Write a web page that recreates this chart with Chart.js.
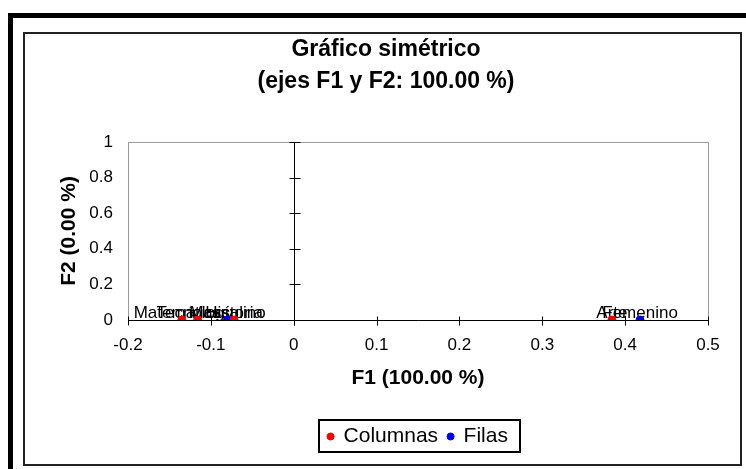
<!DOCTYPE html>
<html>
<head>
<meta charset="utf-8">
<script src="https://cdn.jsdelivr.net/npm/chart.js@4"></script>
<style>
  html, body { margin: 0; padding: 0; background: #fff; }
  canvas { display: block; }
</style>
</head>
<body>
<canvas id="chart" width="746" height="469"></canvas>
<script>
// -------------------------------
// Data
// -------------------------------
const columnLabels = ["Matemáticas", "Tecnología", "Historia", "Arte"];
const columnF1 = [-0.135, -0.116, -0.072, 0.384];
const columnF2 = [0, 0, 0, 0];

const rowLabels = ["Masculino", "Femenino"];
const rowF1 = [-0.080, 0.418];
const rowF2 = [0, 0];

const xTickLabels = ["-0.2", "-0.1", "0", "0.1", "0.2", "0.3", "0.4", "0.5"];
const yTickLabels = ["0", "0.2", "0.4", "0.6", "0.8", "1"];

const FONT = "'Liberation Sans', Arial, sans-serif";
Chart.defaults.font.family = FONT;
Chart.defaults.color = "#000";

// -------------------------------
// Frame, plot box and axes through 0
// -------------------------------
const framePlugin = {
  id: "frame",
  beforeDraw(chart) {
    const ctx = chart.ctx;
    ctx.save();
    ctx.fillStyle = "#fff";
    ctx.fillRect(0, 0, chart.width, chart.height);
    // thick outer border (left + top)
    ctx.fillStyle = "#000";
    ctx.fillRect(8, 13, 5, chart.height - 13);
    ctx.fillRect(8, 13, chart.width - 8, 5);
    // inner thin border
    ctx.strokeStyle = "#222";
    ctx.lineWidth = 2;
    ctx.strokeRect(24, 33, 717, 432);
    ctx.restore();
  },
  beforeDatasetsDraw(chart) {
    const ctx = chart.ctx;
    const a = chart.chartArea;
    const x = chart.scales.x;
    const y = chart.scales.y;
    ctx.save();
    ctx.strokeStyle = "#9a9a9a";
    ctx.lineWidth = 1;
    ctx.strokeRect(a.left + 0.5, a.top + 0.5, a.right - a.left, a.bottom - a.top);

    ctx.strokeStyle = "#000";
    const x0 = Math.round(x.getPixelForValue(0)) + 0.5;
    const y0 = Math.round(y.getPixelForValue(0)) + 0.5;
    ctx.beginPath();
    ctx.moveTo(x0, a.top);
    ctx.lineTo(x0, y0 + 5);
    ctx.moveTo(a.left, y0);
    ctx.lineTo(a.right + 1, y0);
    x.ticks.forEach((t) => {
      const px = Math.round(x.getPixelForValue(t.value)) + 0.5;
      ctx.moveTo(px, y0 - 4);
      ctx.lineTo(px, y0 + 5);
    });
    y.ticks.forEach((t) => {
      const py = Math.round(y.getPixelForValue(t.value)) + 0.5;
      ctx.moveTo(x0 - 5, py);
      ctx.lineTo(x0 + 6, py);
    });
    ctx.stroke();

    // point labels (drawn under the markers)
    ctx.font = "17px " + FONT;
    ctx.fillStyle = "#000";
    ctx.textAlign = "center";
    ctx.textBaseline = "alphabetic";
    const names = [columnLabels, rowLabels];
    chart.data.datasets.forEach((ds, i) => {
      chart.getDatasetMeta(i).data.forEach((pt, j) => {
        ctx.fillText(names[i][j], pt.x, pt.y - 2);
      });
    });
    ctx.restore();
  },
  afterDraw(chart) {
    // box around the legend
    const boxes = chart.legend && chart.legend.legendHitBoxes;
    if (!boxes || !boxes.length) return;
    let l = Infinity, r = -Infinity, t = Infinity, b = -Infinity;
    boxes.forEach((h) => {
      l = Math.min(l, h.left);
      r = Math.max(r, h.left + h.width);
      t = Math.min(t, h.top);
      b = Math.max(b, h.top + h.height);
    });
    const ctx = chart.ctx;
    ctx.save();
    ctx.strokeStyle = "#000";
    ctx.lineWidth = 2;
    ctx.strokeRect(Math.round(l) - 9, Math.round(t) - 6, Math.round(r - l) + 21, Math.round(b - t) + 11);
    ctx.restore();
  },
};

const chart = new Chart(document.getElementById("chart"), {
  type: "scatter",
  data: {
    datasets: [
      {
        label: "Columnas",
        data: columnF1.map((v, i) => ({ x: v, y: columnF2[i] })),
        backgroundColor: "#ff0000",
        borderColor: "#ff0000",
        pointRadius: 4,
        pointHoverRadius: 4,
      },
      {
        label: "Filas",
        data: rowF1.map((v, i) => ({ x: v, y: rowF2[i] })),
        backgroundColor: "#0000ff",
        borderColor: "#0000ff",
        pointRadius: 4,
        pointHoverRadius: 4,
      },
    ],
  },
  options: {
    responsive: false,
    animation: false,
    devicePixelRatio: 1,
    layout: { padding: { top: 0, left: 64, right: 38, bottom: 12 } },
    plugins: {
      tooltip: { enabled: false },
      title: {
        display: true,
        text: ["Gráfico simétrico", "(ejes F1 y F2: 100.00 %)"],
        font: { size: 23, weight: "bold", lineHeight: 1.39 },
        padding: { top: 34, bottom: 44 },
        color: "#000",
      },
      legend: {
        position: "bottom",
        fullSize: false,
        labels: {
          usePointStyle: true,
          pointStyle: "circle",
          boxWidth: 5,
          boxHeight: 5,
          padding: 10,
          font: { size: 21 },
          color: "#000",
        },
      },
    },
    scales: {
      x: {
        type: "linear",
        min: -0.2,
        max: 0.5,
        afterFit: (s) => { s.height = 96; },
        grid: { display: false, drawTicks: false },
        border: { display: false },
        ticks: {
          stepSize: 0.1,
          padding: 15,
          font: { size: 17 },
          callback: (v, i) => xTickLabels[i],
        },
        title: {
          display: true,
          text: "F1 (100.00 %)",
          font: { size: 21, weight: "bold" },
          padding: { top: 0, bottom: 25 },
        },
      },
      y: {
        type: "linear",
        min: 0,
        max: 1,
        afterFit: (s) => { s.width = 64; },
        grid: { display: false, drawTicks: false },
        border: { display: false },
        ticks: {
          stepSize: 0.2,
          padding: 15,
          font: { size: 17 },
          callback: (v, i) => yTickLabels[i],
        },
        title: {
          display: true,
          text: "F2 (0.00 %)",
          font: { size: 21, weight: "bold" },
          padding: { top: -7, bottom: 0 },
        },
      },
    },
  },
  plugins: [framePlugin],
});
</script>
</body>
</html>
